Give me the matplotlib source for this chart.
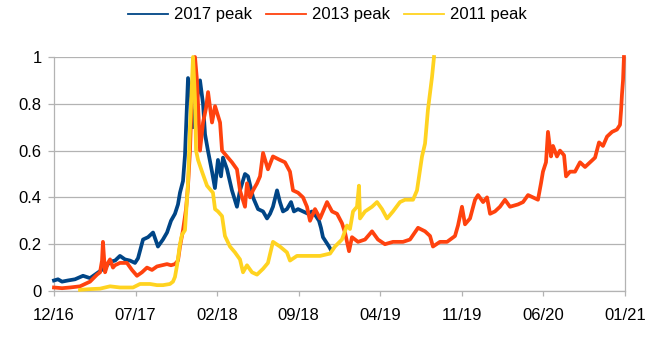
import matplotlib
matplotlib.use("Agg")
import matplotlib.pyplot as plt
from matplotlib.lines import Line2D

# Precio normalizado al pico de cada ciclo (x = meses desde 12/16)
months_2017 = [0, 0.34, 0.69, 1.20, 1.80, 2.49, 3.09, 3.52, 3.95, 4.38, 4.81, 5.24, 5.66, 6.09,
               6.52, 6.95, 7.21, 7.64, 8.07, 8.50, 8.92, 9.35, 9.70, 10.04, 10.38, 10.64, 10.81,
               11.07, 11.24, 11.50, 11.76, 11.93, 12.10, 12.27, 12.53, 12.79, 12.96, 13.21, 13.56,
               13.81, 14.07, 14.33, 14.50, 14.85, 15.27, 15.70, 15.96, 16.39, 16.65, 17.08, 17.51,
               17.94, 18.28, 18.54, 18.79, 19.14, 19.39, 19.65, 19.99, 20.34, 20.59, 20.94, 21.37,
               21.80, 22.14, 22.48, 22.74, 22.91, 23.08, 23.34, 23.60, 23.77]
peak_2017 = [0.045, 0.05, 0.04, 0.045, 0.05, 0.065, 0.055, 0.07, 0.085, 0.10, 0.125, 0.13, 0.15, 0.135,
             0.13, 0.12, 0.14, 0.22, 0.23, 0.25, 0.19, 0.22, 0.25, 0.30, 0.33, 0.37, 0.42,
             0.47, 0.58, 0.91, 0.83, 0.70, 0.75, 0.82, 0.90, 0.80, 0.67, 0.60, 0.51,
             0.44, 0.56, 0.49, 0.57, 0.52, 0.43, 0.36, 0.43, 0.50, 0.49, 0.40, 0.35,
             0.34, 0.31, 0.33, 0.36, 0.43, 0.38, 0.34, 0.35, 0.38, 0.34, 0.35, 0.34,
             0.33, 0.34, 0.32, 0.30, 0.27, 0.23, 0.21, 0.19, 0.175]

months_2013 = [0, 0.69, 1.37, 2.23, 3.09, 3.69, 3.95, 4.12, 4.20, 4.38, 4.63, 4.81, 5.06, 5.23, 5.66,
               6.26, 6.69, 7.12, 7.55, 7.98, 8.41, 8.84, 9.27, 9.70, 10.04, 10.38, 10.64, 10.81,
               11.07, 11.33, 11.50, 11.67, 11.84, 12.10, 12.27, 12.53, 12.79, 13.04, 13.22, 13.56,
               13.82, 14.25, 14.42, 14.85, 15.27, 15.70, 15.96, 16.39, 16.56, 16.82, 17.08, 17.42,
               17.68, 17.94, 18.36, 18.79, 19.39, 19.82, 20.25, 20.51, 20.94, 21.37, 21.71, 21.97,
               22.40, 22.83, 23.26, 23.43, 23.86, 24.29, 24.71, 24.97, 25.32, 25.57, 26.09, 26.69,
               27.29, 27.80, 28.40, 29.09, 29.95, 30.55, 31.24, 31.84, 32.27, 32.52, 33.12, 33.73,
               34.41, 34.67, 35.01, 35.27, 35.70, 36.13, 36.39, 36.82, 37.16, 37.42, 37.84, 38.27,
               38.70, 39.13, 39.82, 40.25, 40.68, 41.11, 41.53, 41.79, 41.96, 42.22, 42.39, 42.65,
               42.82, 43.16, 43.42, 43.77, 43.94, 44.28, 44.71, 45.14, 45.57, 46.00, 46.43, 46.77,
               47.11, 47.46, 47.89, 48.31, 48.57, 48.66, 48.74, 48.83, 48.91]
peak_2013 = [0.015, 0.012, 0.015, 0.02, 0.04, 0.07, 0.08, 0.13, 0.21, 0.08, 0.12, 0.135, 0.10, 0.11, 0.12,
             0.12, 0.09, 0.065, 0.08, 0.10, 0.09, 0.105, 0.11, 0.115, 0.11, 0.115, 0.13, 0.19,
             0.26, 0.35, 0.45, 0.60, 0.85, 1.0, 0.90, 0.60, 0.72, 0.78, 0.85, 0.72,
             0.79, 0.72, 0.60, 0.575, 0.55, 0.52, 0.43, 0.36, 0.46, 0.40, 0.43, 0.46,
             0.49, 0.59, 0.52, 0.575, 0.56, 0.55, 0.51, 0.43, 0.42, 0.40, 0.36, 0.30,
             0.35, 0.31, 0.36, 0.38, 0.34, 0.33, 0.29, 0.25, 0.17, 0.23, 0.21, 0.22,
             0.255, 0.22, 0.20, 0.21, 0.21, 0.22, 0.27, 0.255, 0.235, 0.19, 0.21, 0.21,
             0.235, 0.28, 0.36, 0.285, 0.31, 0.39, 0.41, 0.38, 0.40, 0.33, 0.34, 0.36,
             0.39, 0.36, 0.37, 0.38, 0.41, 0.40, 0.39, 0.46, 0.51, 0.55, 0.68, 0.575,
             0.62, 0.575, 0.60, 0.58, 0.49, 0.51, 0.51, 0.55, 0.53, 0.55, 0.57, 0.635,
             0.62, 0.66, 0.68, 0.69, 0.71, 0.77, 0.84, 0.90, 1.0]

months_2011 = [2.23, 3.09, 3.95, 4.81, 5.66, 6.78, 7.38, 8.24, 8.84, 9.35, 9.95, 10.21, 10.38, 10.56,
               10.81, 10.98, 11.24, 11.50, 11.67, 11.84, 11.93, 12.10, 12.19, 12.36, 12.70, 13.13,
               13.64, 13.82, 14.07, 14.42, 14.67, 15.10, 15.53, 15.96, 16.22, 16.56, 16.99, 17.42,
               17.94, 18.36, 18.79, 19.39, 19.99, 20.25, 20.85, 21.37, 22.14, 22.83, 23.69, 24.11,
               24.71, 25.14, 25.40, 25.66, 26.00, 26.17, 26.26, 26.69, 27.29, 27.72, 28.15, 28.58,
               29.09, 29.69, 30.12, 30.81, 31.15, 31.58, 31.84, 32.09, 32.44, 32.61]
peak_2011 = [0.005, 0.008, 0.01, 0.02, 0.015, 0.015, 0.03, 0.03, 0.025, 0.025, 0.03, 0.04, 0.06, 0.11,
             0.20, 0.24, 0.26, 0.46, 0.70, 0.89, 1.0, 0.82, 0.60, 0.56, 0.51, 0.45,
             0.42, 0.35, 0.34, 0.32, 0.235, 0.19, 0.165, 0.135, 0.08, 0.11, 0.08, 0.07,
             0.095, 0.12, 0.21, 0.19, 0.165, 0.13, 0.15, 0.15, 0.15, 0.15, 0.16, 0.19,
             0.22, 0.28, 0.265, 0.34, 0.36, 0.45, 0.31, 0.34, 0.36, 0.38, 0.35, 0.31,
             0.34, 0.38, 0.39, 0.39, 0.43, 0.575, 0.63, 0.775, 0.915, 1.0]

tick_pos = [0, 7, 14, 21, 28, 35, 42, 49]
tick_labels = ['12/16', '07/17', '02/18', '09/18', '04/19', '11/19', '06/20', '01/21']
y_ticks = [0, 0.2, 0.4, 0.6, 0.8, 1.0]
y_labels = ['0', '0.2', '0.4', '0.6', '0.8', '1']

c_2017 = '#004586'
c_2013 = '#ff420e'
c_2011 = '#ffd320'
grey = '#b3b3b3'

plt.rcParams['font.family'] = ['Liberation Sans', 'DejaVu Sans']
plt.rcParams['font.size'] = 12

fig = plt.figure(figsize=(6.55, 3.43), dpi=100)
ax = fig.add_axes([54 / 655, 52 / 343, 571 / 655, 234 / 343])

ax.plot(months_2017, peak_2017, color=c_2017, lw=2.7, clip_on=False, zorder=3)
ax.plot(months_2013, peak_2013, color=c_2013, lw=2.7, clip_on=False, zorder=4)
ax.plot(months_2011, peak_2011, color=c_2011, lw=2.7, clip_on=False, zorder=5)

ax.set_xlim(0, 49)
ax.set_ylim(0, 1)
ax.set_xticks(tick_pos)
ax.set_xticklabels(tick_labels)
ax.set_yticks(y_ticks)
ax.set_yticklabels(y_labels)

# Ejes y rejilla en gris claro
ax.grid(axis='y', color=grey, lw=0.9, zorder=0)
ax.set_axisbelow(True)
for side in ['left', 'bottom', 'right']:
    ax.spines[side].set_color(grey)
    ax.spines[side].set_linewidth(0.9)
ax.spines['top'].set_visible(False)
ax.tick_params(axis='x', length=3.5, width=0.9, color=grey, pad=9)
ax.tick_params(axis='y', length=4.5, width=0.9, color=grey, pad=4.5)

# Leyenda arriba con líneas finas
handles = [Line2D([], [], color=c_2017, lw=1.3),
           Line2D([], [], color=c_2013, lw=1.3),
           Line2D([], [], color=c_2011, lw=1.3)]
fig.legend(handles, ['2017 peak', '2013 peak', '2011 peak'], loc='center',
           bbox_to_anchor=(0.5, 1 - 15 / 343), ncol=3, frameon=False,
           handlelength=2.4, handletextpad=0.36, columnspacing=0.84, borderpad=0)

fig.savefig('out.png', dpi=100)
